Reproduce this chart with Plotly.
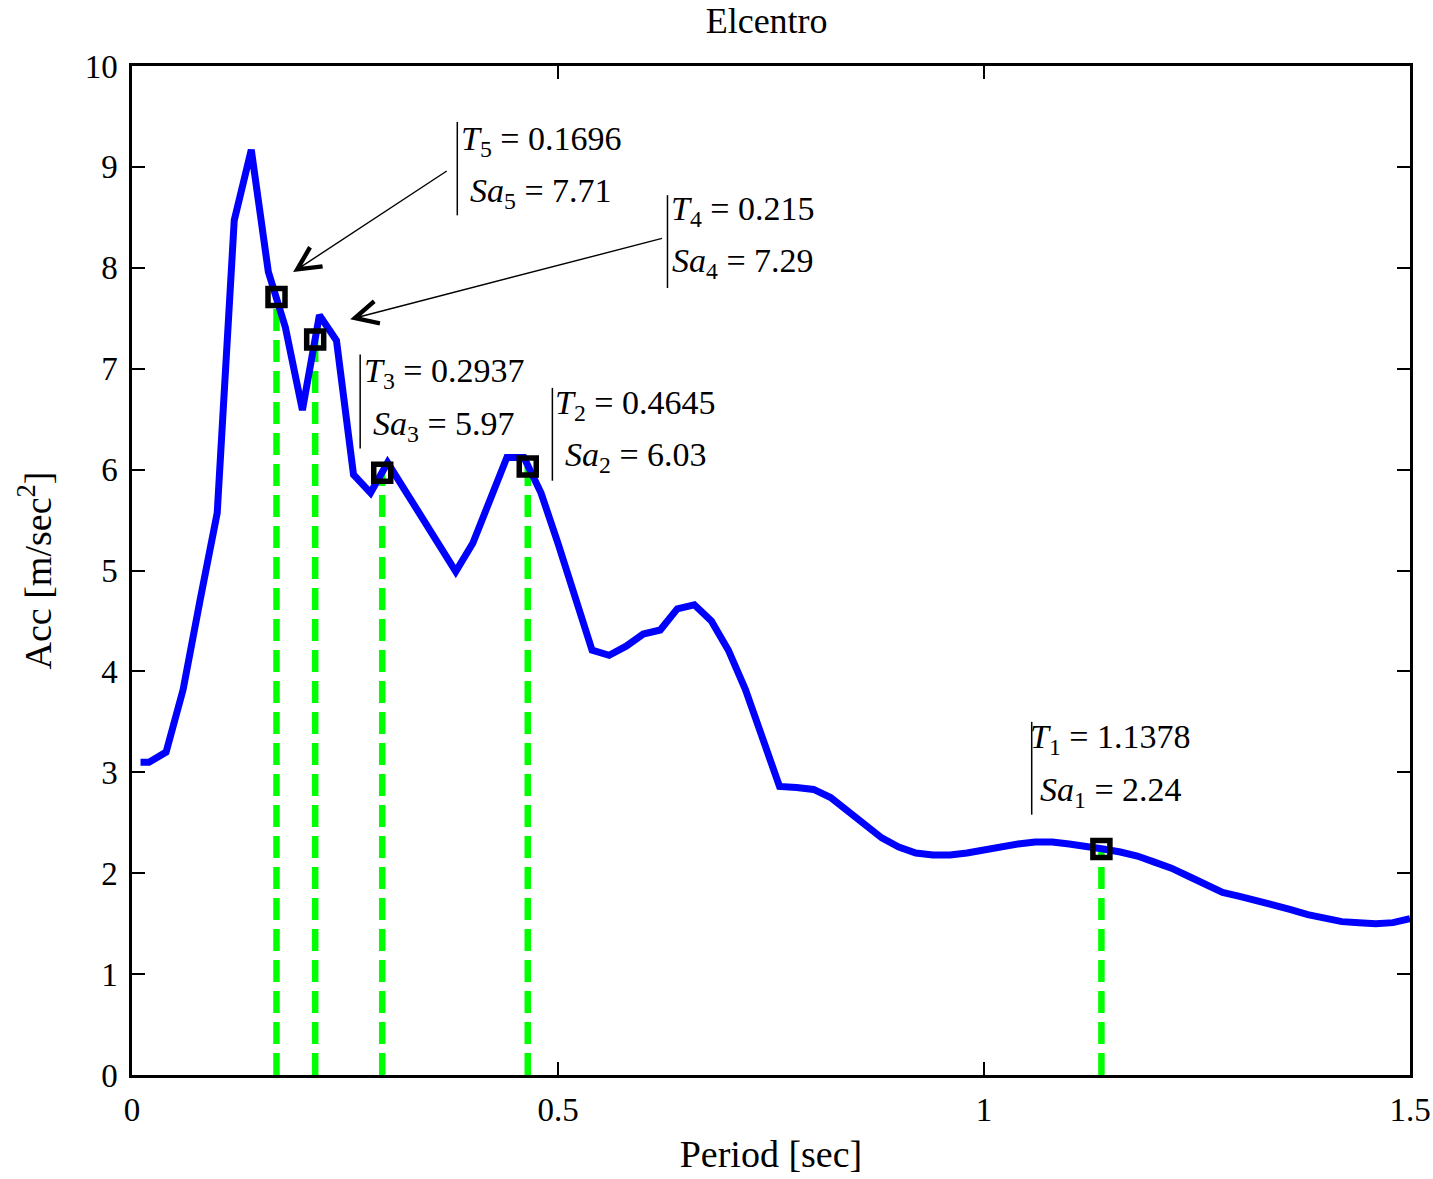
import plotly.graph_objects as go

# ---------------- data ----------------
period = [0.01, 0.02, 0.04, 0.06, 0.08, 0.10, 0.12, 0.14, 0.16, 0.18, 0.20,
          0.22, 0.24, 0.26, 0.28, 0.30, 0.32, 0.34, 0.36, 0.38, 0.40, 0.42,
          0.44, 0.46, 0.48, 0.50, 0.52, 0.54, 0.56, 0.58, 0.60, 0.62, 0.64,
          0.66, 0.68, 0.70, 0.72, 0.74, 0.76, 0.78, 0.80, 0.82, 0.84, 0.86,
          0.88, 0.90, 0.92, 0.94, 0.96, 0.98, 1.00, 1.02, 1.04, 1.06, 1.08,
          1.10, 1.12, 1.14, 1.16, 1.18, 1.20, 1.22, 1.24, 1.26, 1.28, 1.30,
          1.32, 1.34, 1.36, 1.38, 1.40, 1.42, 1.44, 1.46, 1.48, 1.50]
acc = [3.10, 3.10, 3.20, 3.82, 4.71, 5.57, 8.47, 9.17, 7.96, 7.41, 6.59,
       7.53, 7.28, 5.95, 5.77, 6.07, 5.80, 5.53, 5.26, 4.99, 5.27, 5.70,
       6.12, 6.12, 5.77, 5.27, 4.74, 4.21, 4.16, 4.25, 4.37, 4.41, 4.62,
       4.66, 4.50, 4.21, 3.82, 3.32, 2.86, 2.85, 2.83, 2.75, 2.62, 2.48,
       2.35, 2.26, 2.20, 2.18, 2.18, 2.20, 2.23, 2.27, 2.29, 2.31, 2.31,
       2.29, 2.27, 2.24, 2.21, 2.17, 2.11, 2.05, 1.97, 1.89, 1.81, 1.77,
       1.73, 1.68, 1.64, 1.59, 1.55, 1.52, 1.51, 1.50, 1.51, 1.55]

mode_index = [1, 2, 3, 4, 5]
mode_T = [1.1378, 0.4645, 0.2937, 0.215, 0.1696]
mode_Sa = [2.24, 6.03, 5.97, 7.29, 7.71]
mode_T_text = ["1.1378", "0.4645", "0.2937", "0.215", "0.1696"]
mode_Sa_text = ["2.24", "6.03", "5.97", "7.29", "7.71"]

# label placement (data coords): text centre x, line-1 y, line-2 y, bar x, bar y0, bar y1
label_x = [1.149, 0.591, 0.3665, 0.7177, 0.4805]
label_y1 = [3.33, 6.64, 6.955, 8.56, 9.255]
label_y2 = [2.80, 6.12, 6.435, 8.045, 8.745]
bar_x = [1.056, 0.4934, 0.2678, 0.6285, 0.3818]
bar_y0 = [2.58, 5.89, 6.21, 7.80, 8.52]
bar_y1 = [3.50, 6.81, 7.14, 8.72, 9.445]

# arrows for modes 5 and 4: tail (at label) -> head (near curve)
arrow_tail_x = [0.3712, 0.6238]
arrow_tail_y = [8.969, 8.295]
arrow_head_x = [0.1891, 0.2561]
arrow_head_y = [7.958, 7.490]

x_ticks = [0, 0.5, 1, 1.5]
x_tick_text = ["0", "0.5", "1", "1.5"]
y_ticks = list(range(0, 11))

FONT = "Liberation Serif, Times New Roman, serif"

fig = go.Figure()

# green dashed droplines
gx, gy = [], []
for t, s in zip(mode_T, mode_Sa):
    gx += [t, t, None]
    gy += [0, s, None]
fig.add_trace(go.Scatter(x=gx, y=gy, mode="lines",
                         line=dict(color="#00ff00", width=6.5, dash="22px,9px"),
                         hoverinfo="skip", showlegend=False))

# spectrum curve
fig.add_trace(go.Scatter(x=period, y=acc, mode="lines",
                         line=dict(color="#0000ff", width=7),
                         showlegend=False))

# mode markers
fig.add_trace(go.Scatter(x=mode_T, y=mode_Sa, mode="markers",
                         marker=dict(symbol="square", size=17, color="rgba(0,0,0,0)",
                                     line=dict(width=5.5, color="black")),
                         showlegend=False))

annotations = []
shapes = []
for i in range(len(mode_T)):
    n = mode_index[i]
    annotations.append(dict(
        x=label_x[i], y=label_y1[i], xref="x", yref="y",
        text=f"<i>T</i><sub>{n}</sub> = {mode_T_text[i]}",
        showarrow=False, xanchor="center", yanchor="middle",
        font=dict(family=FONT, size=34, color="black")))
    annotations.append(dict(
        x=label_x[i], y=label_y2[i], xref="x", yref="y",
        text=f"<i>Sa</i><sub>{n}</sub> = {mode_Sa_text[i]}",
        showarrow=False, xanchor="center", yanchor="middle",
        font=dict(family=FONT, size=34, color="black")))
    shapes.append(dict(type="line", xref="x", yref="y",
                       x0=bar_x[i], x1=bar_x[i], y0=bar_y0[i], y1=bar_y1[i],
                       line=dict(color="black", width=1.5)))

for hx, hy, tx, ty in zip(arrow_head_x, arrow_head_y, arrow_tail_x, arrow_tail_y):
    annotations.append(dict(
        x=hx, y=hy, ax=tx, ay=ty, xref="x", yref="y", axref="x", ayref="y",
        text="", showarrow=True, arrowhead=5, arrowsize=3.2, arrowwidth=1.4,
        arrowcolor="black", standoff=0, startstandoff=0))

fig.update_layout(
    width=1433, height=1179,
    margin=dict(l=132, r=23, t=66, b=104, autoexpand=False),
    paper_bgcolor="white", plot_bgcolor="white",
    font=dict(family=FONT, size=34, color="black"),
    title=dict(text="Elcentro", x=0.535, xanchor="center", xref="container",
               y=1.0, yanchor="top", yref="container", pad=dict(t=8, b=0),
               font=dict(family=FONT, size=36, color="black")),
    annotations=annotations, shapes=shapes,
    showlegend=False,
)

fig.update_xaxes(range=[0, 1.5], tickvals=x_ticks, ticktext=x_tick_text,
                 ticks="inside", ticklen=13, tickwidth=2, tickcolor="black",
                 showline=True, linewidth=2.5, linecolor="black", mirror="allticks",
                 showgrid=False, zeroline=False, ticklabelstandoff=4, automargin=False,
                 tickfont=dict(family=FONT, size=33),
                 title=dict(text="Period [sec]", standoff=14,
                            font=dict(family=FONT, size=38)))
fig.update_yaxes(range=[0, 10], tickvals=y_ticks,
                 ticks="inside", ticklen=13, tickwidth=2, tickcolor="black",
                 showline=True, linewidth=2.5, linecolor="black", mirror="allticks",
                 showgrid=False, zeroline=False, ticklabelstandoff=5, automargin=False,
                 tickfont=dict(family=FONT, size=33),
                 title=dict(text="Acc [m/sec<sup>2</sup>]", standoff=22,
                            font=dict(family=FONT, size=38)))

# remove the default page margin so the figure sits at the window's top-left corner
fig.write_html("out.html",
               config={"displayModeBar": False},
               post_script="document.body.style.margin='0';"
                           "document.body.style.overflow='hidden';")
